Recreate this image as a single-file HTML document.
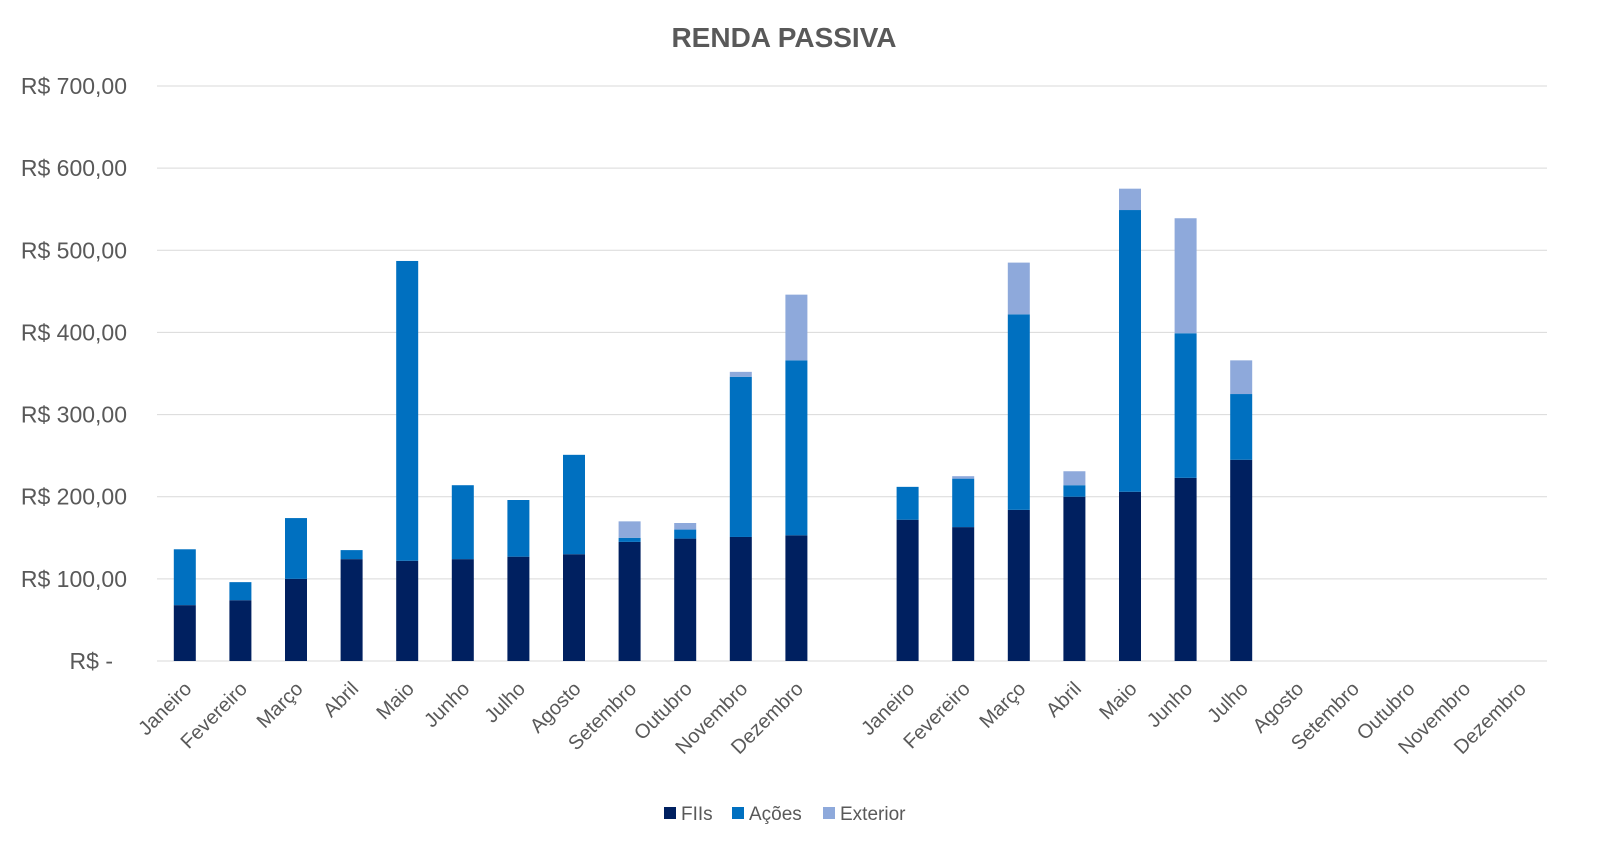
<!DOCTYPE html>
<html><head><meta charset="utf-8"><style>
body{margin:0;background:#fff;}
svg text{font-family:"Liberation Sans",sans-serif;fill:#595959;}
</style></head><body>
<svg id="chart" width="1600" height="862" xmlns="http://www.w3.org/2000/svg">
<rect width="1600" height="862" fill="#fff"/>
<text x="784" y="47" text-anchor="middle" font-size="28" font-weight="bold">RENDA PASSIVA</text>
<g id="grid"></g><g id="bars"></g><g id="xlabels"></g><g id="ylabels"></g>
<g>
<rect x="664" y="807" width="12" height="12" fill="#002060"/>
<text x="681" y="820" font-size="19">FIIs</text>
<rect x="732" y="807" width="12" height="12" fill="#0070C0"/>
<text x="749" y="820" font-size="19">Ações</text>
<rect x="823" y="807" width="12" height="12" fill="#8EA9DB"/>
<text x="840" y="820" font-size="19">Exterior</text>
</g>
</svg>
<script>
const categories=["Janeiro","Fevereiro","Março","Abril","Maio","Junho","Julho","Agosto","Setembro","Outubro","Novembro","Dezembro","","Janeiro","Fevereiro","Março","Abril","Maio","Junho","Julho","Agosto","Setembro","Outubro","Novembro","Dezembro"];
const fiis=[68,74,100,124,122,124,127,130,145,149,151,153,0,172,163,184,200,206,223,245,0,0,0,0,0];
const acoes=[68,22,74,11,365,90,69,121,5,11,195,213,0,40,59,238,14,343,176,80,0,0,0,0,0];
const exterior=[0,0,0,0,0,0,0,0,20,8,6,80,0,0,3,63,17,26,140,41,0,0,0,0,0];
const yTicks=[0,100,200,300,400,500,600,700];
const yTickLabels=["R$ -","R$ 100,00","R$ 200,00","R$ 300,00","R$ 400,00","R$ 500,00","R$ 600,00","R$ 700,00"];
const NS="http://www.w3.org/2000/svg";
const x0=157,x1=1547,y0=661,yTop=86,vmax=700;
const slot=(x1-x0)/categories.length;
const xC=i=>x0+slot*(i+0.5);
const yS=v=>y0-(v/vmax)*(y0-yTop);
function mk(t,a,p){const e=document.createElementNS(NS,t);for(const k in a)e.setAttribute(k,a[k]);document.getElementById(p).appendChild(e);return e;}
yTicks.forEach((v,i)=>{
  const l=mk('line',{x1:x0,x2:x1,y1:yS(v),y2:yS(v),stroke:'#d9d9d9','stroke-width':1},'grid');
  
  
  const t=mk('text',{x:v===0?113:127,y:yS(v)+8,'text-anchor':'end','font-size':23},'ylabels');
  t.textContent=yTickLabels[i];
  
  
});
const bw=22;
const series=[[fiis,'#002060','bar-fiis'],[acoes,'#0070C0','bar-acoes'],[exterior,'#8EA9DB','bar-exterior']];
categories.forEach((c,i)=>{
  let base=0;
  series.forEach(([arr,col,nm])=>{
    const v=arr[i];
    if(v>0){
      const r=mk('rect',{x:xC(i)-bw/2,y:yS(base+v),width:bw,height:yS(base)-yS(base+v),fill:col},'bars');
      
      
    }
    base+=v;
  });
  if(c){
    const cx=xC(i)+8,cy=690;
    const t=mk('text',{x:cx,y:cy,'text-anchor':'end','font-size':20,transform:`rotate(-45 ${cx} ${cy})`},'xlabels');
    t.textContent=c;
    
    
  }
});
</script>
</body></html>
